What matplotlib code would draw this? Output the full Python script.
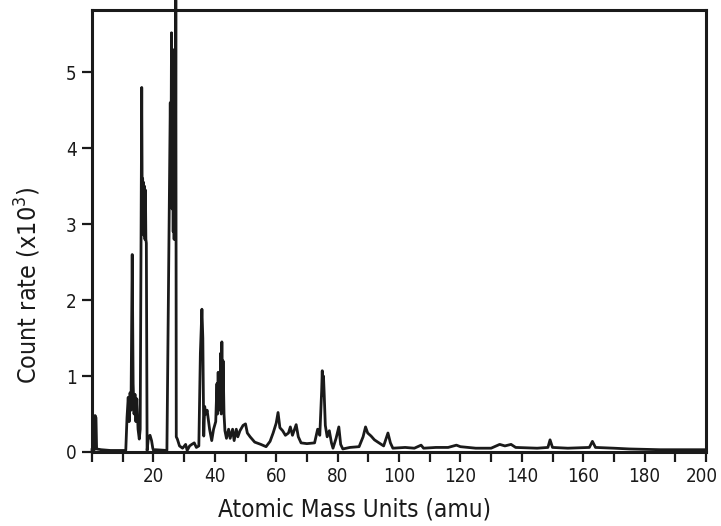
import matplotlib.pyplot as plt
from matplotlib.ticker import MultipleLocator
from matplotlib.transforms import ScaledTranslation

# Mass spectrum trace (amu vs count rate in thousands)
mass = [0.0, 0.8, 1.0, 1.3, 1.5, 3.0, 6.0, 11.0, 11.4, 11.8, 12.1, 12.4, 12.7, 13.1,
        13.4, 13.7, 14.0, 14.3, 14.6, 15.0, 15.4, 15.7, 16.2, 16.35, 16.5, 16.65,
        16.8, 16.95, 17.1, 17.25, 17.4, 17.55, 17.7, 17.95, 18.4, 18.9, 19.4, 19.8,
        20.2, 20.6, 24.4, 25.1, 25.5, 25.7, 25.9, 26.1, 26.3, 26.45, 26.6, 26.75,
        26.9, 27.05, 27.2, 27.3, 27.45, 27.8, 28.5, 29.5, 30.5, 31.0, 31.8, 32.5,
        33.3, 34.0, 34.8, 35.3, 35.8, 36.1, 36.4, 36.7, 37.1, 37.5, 38.3, 39.0, 39.6,
        40.3, 40.7, 40.9, 41.1, 41.3, 41.5, 41.7, 41.9, 42.1, 42.3, 42.5, 42.7,
        43.0, 43.3, 43.8, 44.5, 45.0, 45.8, 46.3, 47.0, 47.5, 48.2, 49.2, 50.0,
        50.6, 51.5, 53.0, 55.0, 56.7, 58.0, 59.0, 60.0, 60.6, 61.2, 62.1, 63.0,
        64.0, 64.6, 65.3, 66.0, 66.5, 67.2, 68.1, 70.0, 72.5, 73.5, 74.2, 74.8,
        75.0, 75.2, 75.4, 75.6, 76.0, 76.6, 77.3, 78.0, 78.5, 79.5, 80.4, 81.0,
        81.7, 84.0, 87.0, 88.3, 89.1, 89.8, 90.9, 92.0, 93.1, 95.0, 96.4, 97.2,
        98.0, 102.0, 105.0, 107.2, 108.0, 112.0, 116.0, 118.7, 120.0, 125.0, 130.0,
        132.8, 134.5, 136.5, 138.0, 145.0, 148.5, 149.2, 150.0, 155.0, 162.0, 163.0,
        164.0, 170.0, 175.0, 185.0, 195.0, 200.0]
count = [0.03, 0.03, 0.48, 0.45, 0.04, 0.03, 0.02, 0.02, 0.45, 0.72, 0.4, 0.78, 0.55,
         2.6, 0.9, 0.5, 0.76, 0.4, 0.7, 0.3, 0.17, 0.3, 4.8, 3.3, 3.6, 2.9,
         3.55, 2.85, 3.5, 2.8, 3.45, 2.8, 2.75, 0.02, 0.2, 0.22, 0.15, 0.05,
         0.0, 0.03, 0.02, 2.9, 4.6, 3.5, 5.52, 3.2, 5.3, 2.9, 5.0, 2.8,
         4.7, 2.8, 3.6, 5.95, 0.2, 0.17, 0.08, 0.05, 0.1, 0.02, 0.08, 0.1,
         0.12, 0.06, 0.08, 1.3, 1.88, 1.5, 0.21, 0.6, 0.5, 0.55, 0.3, 0.15, 0.3,
         0.4, 0.9, 0.5, 1.05, 0.55, 1.0, 0.6, 1.3, 0.5, 1.45, 0.6, 1.2,
         0.5, 0.28, 0.18, 0.3, 0.18, 0.3, 0.15, 0.3, 0.2, 0.28, 0.35, 0.37,
         0.25, 0.2, 0.13, 0.1, 0.07, 0.14, 0.25, 0.38, 0.52, 0.32, 0.28, 0.22,
         0.25, 0.33, 0.22, 0.3, 0.36, 0.2, 0.12, 0.11, 0.12, 0.3, 0.22, 0.8,
         1.07, 0.75, 1.0, 0.8, 0.35, 0.2, 0.28, 0.12, 0.05, 0.18, 0.33, 0.1,
         0.04, 0.06, 0.07, 0.2, 0.33, 0.25, 0.21, 0.16, 0.13, 0.08, 0.25, 0.12,
         0.05, 0.06, 0.05, 0.09, 0.05, 0.06, 0.06, 0.09, 0.07, 0.05, 0.05,
         0.1, 0.08, 0.1, 0.06, 0.05, 0.06, 0.16, 0.06, 0.05, 0.06, 0.14,
         0.06, 0.05, 0.04, 0.03, 0.03, 0.03]

x_labels = ['' if v == 0 else str(v) for v in range(0, 201, 20)]
y_labels = [str(v) for v in range(0, 6)]

plt.rcParams['font.family'] = ['DejaVu Sans']
plt.rcParams['font.stretch'] = 'condensed'
ink = '#1a1a1a'

fig = plt.figure(figsize=(7.21, 5.26), dpi=100)
ax = fig.add_axes([0.1276, 0.1407, 0.8516, 0.8403])

# the mass-28 line runs off scale, so let it poke out past the frame
ax.plot(mass, count, color=ink, lw=2.0, clip_on=False)

ax.set_xlim(0, 200)
ax.set_ylim(0, 5.82)

ax.set_xticks(range(0, 201, 20), x_labels)
ax.xaxis.set_minor_locator(MultipleLocator(10))
ax.set_yticks(range(0, 6), y_labels)

ax.tick_params(axis='both', which='both', direction='out', length=7, width=1.6,
               color=ink, labelcolor=ink, labelsize=13.5, pad=4)

# keep the last x label inside the figure edge
last = ax.get_xticklabels()[-1]
last.set_transform(last.get_transform() + ScaledTranslation(-3 / 72, 0, fig.dpi_scale_trans))

for s in ax.spines.values():
    s.set_linewidth(2.2)
    s.set_color(ink)

ax.set_xlabel('Atomic Mass Units (amu)', fontsize=17.5, color=ink)
ax.set_ylabel('Count rate (x10$^3$)', fontsize=18, color=ink)
ax.xaxis.set_label_coords(0.427, -0.104)
ax.yaxis.set_label_coords(-0.08, 0.378)

fig.savefig('out.png', dpi=100)
